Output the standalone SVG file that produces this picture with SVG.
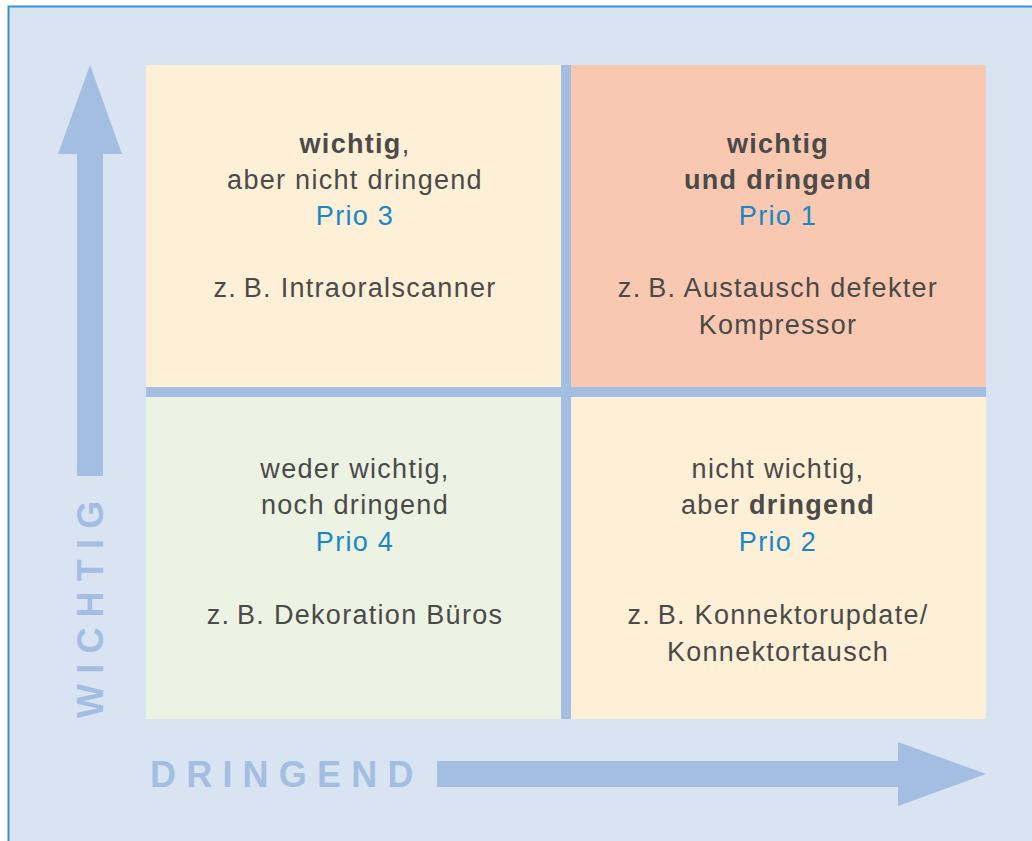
<svg xmlns="http://www.w3.org/2000/svg" width="1032" height="841" viewBox="0 0 1032 841">
<style>
.t{font-family:"Liberation Sans",Arial,sans-serif;font-size:27px;fill:#4a4a4a;text-anchor:middle;letter-spacing:1.3px}
.b{font-weight:bold}
.p{fill:#1a86c8}
.ax{font-family:"Liberation Sans",Arial,sans-serif;font-size:36px;font-weight:bold;fill:#a4bee2;letter-spacing:10.2px}
.arr{fill:#a4bee2}
</style>
<rect x="8.5" y="6.5" width="1040" height="850" fill="#d8e4f2" stroke="#3d8fd1" stroke-width="2"/>
<g id="connectors">
<polygon class="arr" points="77,476 77,154 58,154 90,65 122,154 103,154 103,476"/>
<polygon class="arr" points="437,761 898,761 898,742 986,774 898,806 898,787 437,787"/>
</g>
<rect id="dividers" x="146" y="65" width="840" height="654" fill="#a4bee2"/>
<g id="q3">
<rect x="146" y="65" width="415" height="322" fill="#feefd7"/>
<text class="t" x="355" y="153"><tspan class="b">wichtig</tspan>,</text>
<text class="t" x="355" y="189">aber nicht dringend</text>
<text class="t p" x="355" y="225">Prio 3</text>
<text class="t" x="355" y="297">z.&#8201;B. Intraoralscanner</text>
</g>
<g id="q1">
<rect x="571" y="65" width="415" height="322" fill="#f9c8b0"/>
<text class="t b" x="778" y="152.5">wichtig</text>
<text class="t b" x="778" y="188.5">und dringend</text>
<text class="t p" x="778" y="225">Prio 1</text>
<text class="t" x="778" y="297">z.&#8201;B. Austausch defekter</text>
<text class="t" x="778" y="333.5">Kompressor</text>
</g>
<g id="q4">
<rect x="146" y="397" width="415" height="322" fill="#ecf3e2"/>
<text class="t" x="355" y="477.5">weder wichtig,</text>
<text class="t" x="355" y="514">noch dringend</text>
<text class="t p" x="355" y="550.5">Prio 4</text>
<text class="t" x="355" y="624">z.&#8201;B. Dekoration Büros</text>
</g>
<g id="q2">
<rect x="571" y="397" width="415" height="322" fill="#feefd7"/>
<text class="t" x="778" y="477.5">nicht wichtig,</text>
<text class="t" x="778" y="514">aber <tspan class="b">dringend</tspan></text>
<text class="t p" x="778" y="550.5">Prio 2</text>
<text class="t" x="778" y="624">z.&#8201;B. Konnektorupdate/</text>
<text class="t" x="778" y="660.5">Konnektortausch</text>
</g>
<g id="axis-labels">
<text class="ax" transform="translate(103,718) rotate(-90)">WICHTIG</text>
<text class="ax" x="150" y="787">DRINGEND</text>
</g>
</svg>
